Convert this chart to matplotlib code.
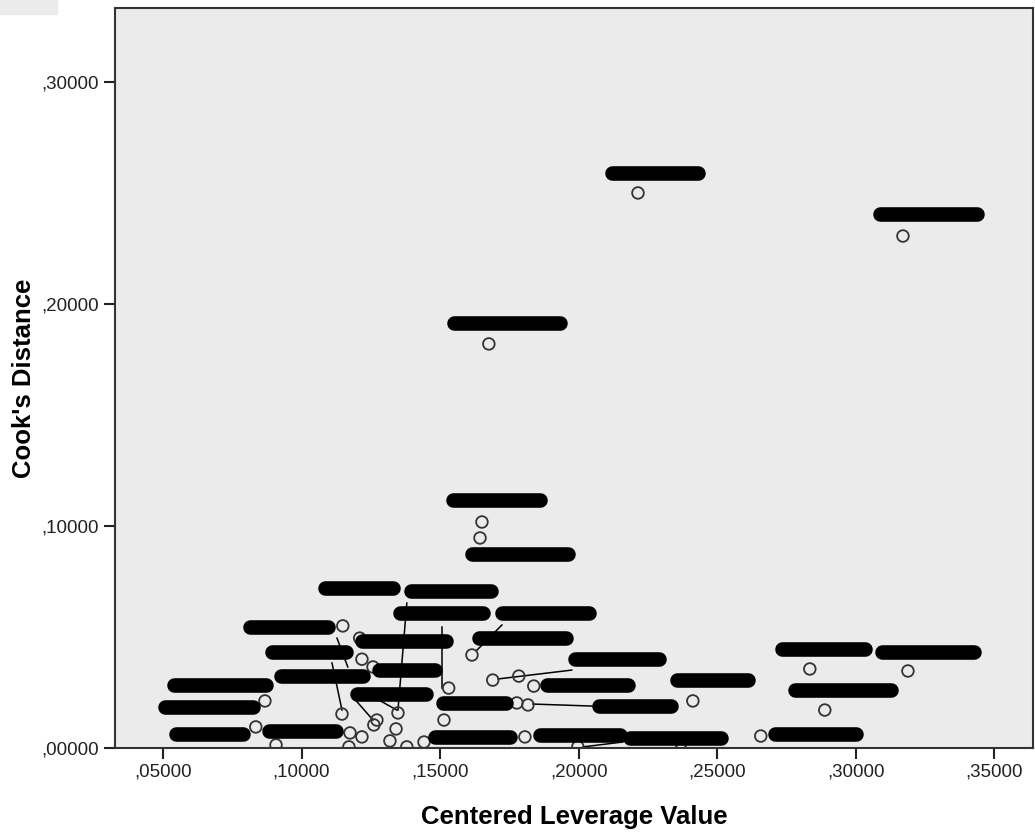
import matplotlib.pyplot as plt
from matplotlib.patches import Rectangle
from matplotlib.ticker import FuncFormatter

plt.rcParams['font.family'] = ['Liberation Sans', 'DejaVu Sans']

# Centered leverage vs Cook's distance
leverage = [0.2214, 0.1676, 0.3170, 0.1651, 0.1644, 0.1149, 0.0868, 0.0835, 0.0908,
            0.1615, 0.1690, 0.1784, 0.1838, 0.1531, 0.1514, 0.1777, 0.1817, 0.1806,
            0.1997, 0.2412, 0.1442, 0.2834, 0.3188, 0.2888, 0.2657, 0.2369, 0.1218,
            0.1146, 0.1175, 0.1171, 0.1218, 0.1272, 0.1261, 0.1319, 0.1348, 0.1341,
            0.1380, 0.1258, 0.1210]
cooks = [0.2500, 0.1820, 0.2306, 0.1018, 0.0946, 0.0550, 0.0212, 0.0095, 0.0014,
         0.0419, 0.0306, 0.0324, 0.0279, 0.0270, 0.0126, 0.0203, 0.0194, 0.0050,
         0.0005, 0.0212, 0.0027, 0.0356, 0.0347, 0.0171, 0.0054, 0.0023, 0.0400,
         0.0153, 0.0068, 0.0005, 0.0050, 0.0126, 0.0104, 0.0032, 0.0158, 0.0086,
         0.0005, 0.0365, 0.0495]

# redacted point labels: x start, x end, y (data units)
label_x0 = [0.2095, 0.1525, 0.3061, 0.1521, 0.1589, 0.1059, 0.1369, 0.1330, 0.1698,
            0.0789, 0.1615, 0.1193, 0.0868, 0.1961, 0.1254, 0.0900, 0.2708, 0.3069,
            0.2329, 0.0514, 0.1860, 0.2755, 0.1175, 0.1485, 0.2048, 0.0482, 0.0857,
            0.0522, 0.1456, 0.1835, 0.2159, 0.2683]
label_x1 = [0.2455, 0.1957, 0.3465, 0.1885, 0.1986, 0.1355, 0.1709, 0.1680, 0.2062,
            0.1120, 0.1979, 0.1546, 0.1185, 0.2315, 0.1506, 0.1247, 0.3058, 0.3451,
            0.2636, 0.0897, 0.2203, 0.3152, 0.1474, 0.1763, 0.2358, 0.0850, 0.1149,
            0.0814, 0.1777, 0.2174, 0.2538, 0.3025]
label_y = [0.2590, 0.1914, 0.2405, 0.1117, 0.0874, 0.0721, 0.0707, 0.0608, 0.0608,
           0.0545, 0.0495, 0.0482, 0.0432, 0.0401, 0.0351, 0.0324, 0.0446, 0.0432,
           0.0306, 0.0284, 0.0284, 0.0261, 0.0243, 0.0203, 0.0189, 0.0185, 0.0077,
           0.0063, 0.0050, 0.0059, 0.0045, 0.0063]

# leader lines between labels and points
lead_x0 = [0.1110, 0.1128, 0.1185, 0.1279, 0.1380, 0.1506, 0.1723, 0.1709, 0.1835, 0.2015]
lead_y0 = [0.0383, 0.0495, 0.0230, 0.0216, 0.0653, 0.0545, 0.0554, 0.0311, 0.0198, 0.0005]
lead_x1 = [0.1146, 0.1167, 0.1258, 0.1344, 0.1348, 0.1506, 0.1633, 0.1975, 0.2048, 0.2159]
lead_y1 = [0.0171, 0.0365, 0.0126, 0.0171, 0.0171, 0.0270, 0.0441, 0.0351, 0.0189, 0.0027]

fig = plt.figure(figsize=(10.35, 8.34), dpi=100)
ax = fig.add_axes([0.1111, 0.1031, 0.8869, 0.8873])
ax.set_facecolor('#EBEBEB')
fig.patches.append(Rectangle((0, 1 - 14 / 834), 57 / 1035, 14 / 834,
                             transform=fig.transFigure, color='#EBEBEB', zorder=0))

for xa, ya, xb, yb in zip(lead_x0, lead_y0, lead_x1, lead_y1):
    ax.plot([xa, xb], [ya, yb], color='black', lw=1.1, zorder=2)

ax.scatter(leverage, cooks, s=70, facecolors='none', edgecolors='#333333',
           linewidths=1.3, zorder=3, clip_on=True)

cap = 0.0026  # half bar height in x units, round caps add it back
for xa, xb, yl in zip(label_x0, label_x1, label_y):
    ax.plot([xa + cap, xb - cap], [yl, yl], color='black', lw=10.5,
            solid_capstyle='round', zorder=4)

ax.set_xlim(0.0327, 0.3639)
ax.set_ylim(0, 0.3333)
ax.set_xticks([0.05, 0.10, 0.15, 0.20, 0.25, 0.30, 0.35])
ax.set_yticks([0.0, 0.10, 0.20, 0.30])
fmt = FuncFormatter(lambda v, p: f'{v:.5f}'.replace('0.', ',', 1))
ax.xaxis.set_major_formatter(fmt)
ax.yaxis.set_major_formatter(fmt)
ax.tick_params(axis='both', direction='out', length=8, width=1.5, labelsize=13.5,
               colors='#222222')
for sp in ax.spines.values():
    sp.set_color('#333333')
    sp.set_linewidth(1.5)

ax.set_xlabel('Centered Leverage Value', fontsize=18.5, fontweight='bold', labelpad=17)
ax.set_ylabel("Cook's Distance", fontsize=18.5, fontweight='bold', labelpad=4)

fig.savefig('out.png', dpi=100)
